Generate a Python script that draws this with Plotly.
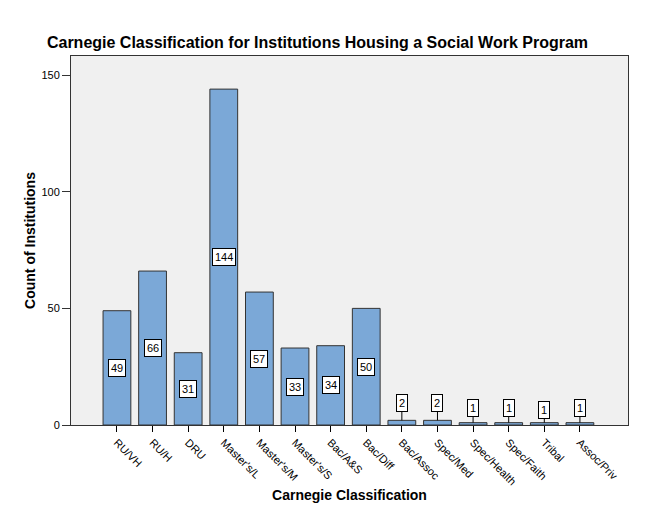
import plotly.graph_objects as go

categories = ["RU/VH", "RU/H", "DRU", "Master's/L", "Master's/M", "Master's/S",
              "Bac/A&S", "Bac/Diff", "Bac/Assoc", "Spec/Med", "Spec/Health",
              "Spec/Faith", "Tribal", "Assoc/Priv"]
tick_labels = ["RU/VH", "RU/H", "DRU", "Master's/L", "Master's/M", "Master's/S",
               "Bac/A&S", "Bac/Diff", "Bac/Assoc", "Spec/Med", "Spec/Health",
               "Spec/Faith", "Tribal", "Assoc/Priv"]
counts = [49, 66, 31, 144, 57, 33, 34, 50, 2, 2, 1, 1, 1, 1]
small_offsets = {8: -17, 9: -17, 10: -15, 11: -15, 12: -13, 13: -15}

fig = go.Figure()
fig.add_trace(go.Bar(
    x=list(range(len(categories))), y=counts,
    marker=dict(color="#7BA8D7", line=dict(color="#333333", width=1)),
    width=0.78, showlegend=False, hoverinfo="skip"))

font = dict(family="Liberation Sans, Arial", size=11, color="black")
for i, v in enumerate(counts):
    if v >= 10:
        fig.add_annotation(x=i, y=v / 2, text=str(v), showarrow=False,
                           bgcolor="white", bordercolor="black", borderwidth=1,
                           borderpad=2, font=font)
    else:
        fig.add_annotation(x=i, y=v, text=str(v), showarrow=True, arrowhead=0,
                           arrowwidth=1, arrowcolor="black", ax=0,
                           ay=small_offsets[i], bgcolor="white",
                           bordercolor="black", borderwidth=1, borderpad=2,
                           font=font, standoff=0)

fig.update_layout(
    width=654, height=514,
    margin=dict(l=71, r=26, t=56, b=89, autoexpand=False),
    paper_bgcolor="white", plot_bgcolor="#F0F0F0",
    title=dict(text="<b>Carnegie Classification for Institutions Housing a Social Work Program</b>",
               x=0.4855, xanchor="center", y=0.917, yanchor="middle",
               font=dict(family="Liberation Sans, Arial", size=16, color="black")),
)
fig.update_xaxes(
    range=[-1.29, 14.35], tickmode="array", tickvals=list(range(len(categories))),
    ticktext=tick_labels, tickangle=45, ticks="outside", ticklen=6,
    tickcolor="black", tickfont=font, showline=True, linecolor="#333333",
    mirror=True, showgrid=False, zeroline=False, automargin=False,
    title=dict(text="<b>Carnegie Classification</b>", standoff=3,
               font=dict(family="Liberation Sans, Arial", size=14, color="black")))
fig.update_yaxes(
    range=[0, 158.2], tickvals=[0, 50, 100, 150], ticks="outside", ticklen=8,
    tickcolor="#333333", tickfont=font, showline=True, linecolor="#333333",
    mirror=True, showgrid=False, zeroline=False, automargin=False,
    title=dict(text="<b>Count of Institutions</b>", standoff=2,
               font=dict(family="Liberation Sans, Arial", size=14, color="black")))

fig.write_html("out.html")
